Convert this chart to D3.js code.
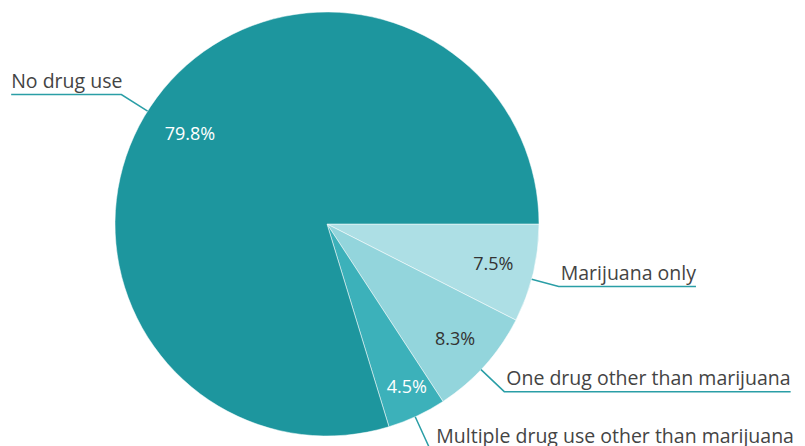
<!DOCTYPE html>
<html>
<head>
<meta charset="utf-8">
<script src="https://cdn.jsdelivr.net/npm/d3@7"></script>
<style>
  html, body { margin: 0; padding: 0; background: #fff; }
  svg { display: block; }
</style>
</head>
<body>
<script>
// data (clockwise from 3 o'clock)
var categories = ["Marijuana only", "One drug other than marijuana", "Multiple drug use other than marijuana", "No drug use"];
var values = [7.5, 8.3, 4.5, 79.8];
var colors = ["#addfe5", "#93d5dc", "#3cb1ba", "#1d969e"];
var pctColors = ["#333333", "#333333", "#ffffff", "#ffffff"];

// label layout (degrees / px), tuned by eye against the original
var pctShift = [0, 0, -1.1, -3.2];
var pctRadius = [171, 172, 181, 164];
var leaderShift = [1.6, 1.5, 0.5, -4.3];
var elbowRadius = [240, 244, 258, 243];

var width = 805, height = 446;
var cx = 327, cy = 224, radius = 212;
var deg = Math.PI / 180;

var svg = d3.select("body").append("svg")
  .attr("width", width)
  .attr("height", height)
  .style("font-family", "'Open Sans', sans-serif");

var pie = d3.pie()
  .sort(null)
  .value(function(d){ return d; })
  .startAngle(Math.PI / 2)
  .endAngle(Math.PI / 2 + 2 * Math.PI);

var arcs = pie(values);
var arc = d3.arc().innerRadius(0).outerRadius(radius);

var g = svg.append("g").attr("transform", "translate(" + cx + "," + cy + ")");

// slices
g.selectAll("path.slice")
  .data(arcs)
  .enter().append("path")
  .attr("class", "slice")
  .attr("d", arc)
  .attr("fill", function(d, i){ return colors[i]; })
  .attr("stroke", "rgba(255,255,255,0.5)")
  .attr("stroke-width", 1);

// d3 angle -> screen direction
function dir(a){ return [Math.sin(a), -Math.cos(a)]; }
function mid(d){ return (d.startAngle + d.endAngle) / 2; }

// percentage labels
g.selectAll("text.pct")
  .data(arcs)
  .enter().append("text")
  .attr("class", "pct")
  .attr("x", function(d, i){ return dir(mid(d) + pctShift[i] * deg)[0] * pctRadius[i]; })
  .attr("y", function(d, i){ return dir(mid(d) + pctShift[i] * deg)[1] * pctRadius[i]; })
  .attr("dy", "0.35em")
  .attr("text-anchor", "middle")
  .attr("fill", function(d, i){ return pctColors[i]; })
  .style("font-size", "18px")
  .text(function(d){ return d.data.toFixed(1) + "%"; });

// leader lines + category labels
arcs.forEach(function(d, i){
  var a = mid(d) + leaderShift[i] * deg;
  var right = Math.sin(a) > 0;
  var v = dir(a);
  var p0 = [v[0] * radius, v[1] * radius];
  var p1 = [v[0] * elbowRadius[i], v[1] * elbowRadius[i]];

  var label = g.append("text")
    .attr("x", right ? p1[0] + 2 : p1[0] + 1)
    .attr("y", Math.min(p1[1] - 6.5, height - cy - 3.5))
    .attr("text-anchor", right ? "start" : "end")
    .attr("fill", "#444444")
    .style("font-size", "19.5px")
    .text(categories[i]);

  var w = label.node().getComputedTextLength();
  var p2 = [right ? p1[0] + w + 2 : p1[0] - w + 1, p1[1]];

  g.append("polyline")
    .attr("points", [p0, p1, p2].map(function(p){ return p.join(","); }).join(" "))
    .attr("fill", "none")
    .attr("stroke", "#2a9ea6")
    .attr("stroke-width", 1.5);
});
</script>
</body>
</html>
